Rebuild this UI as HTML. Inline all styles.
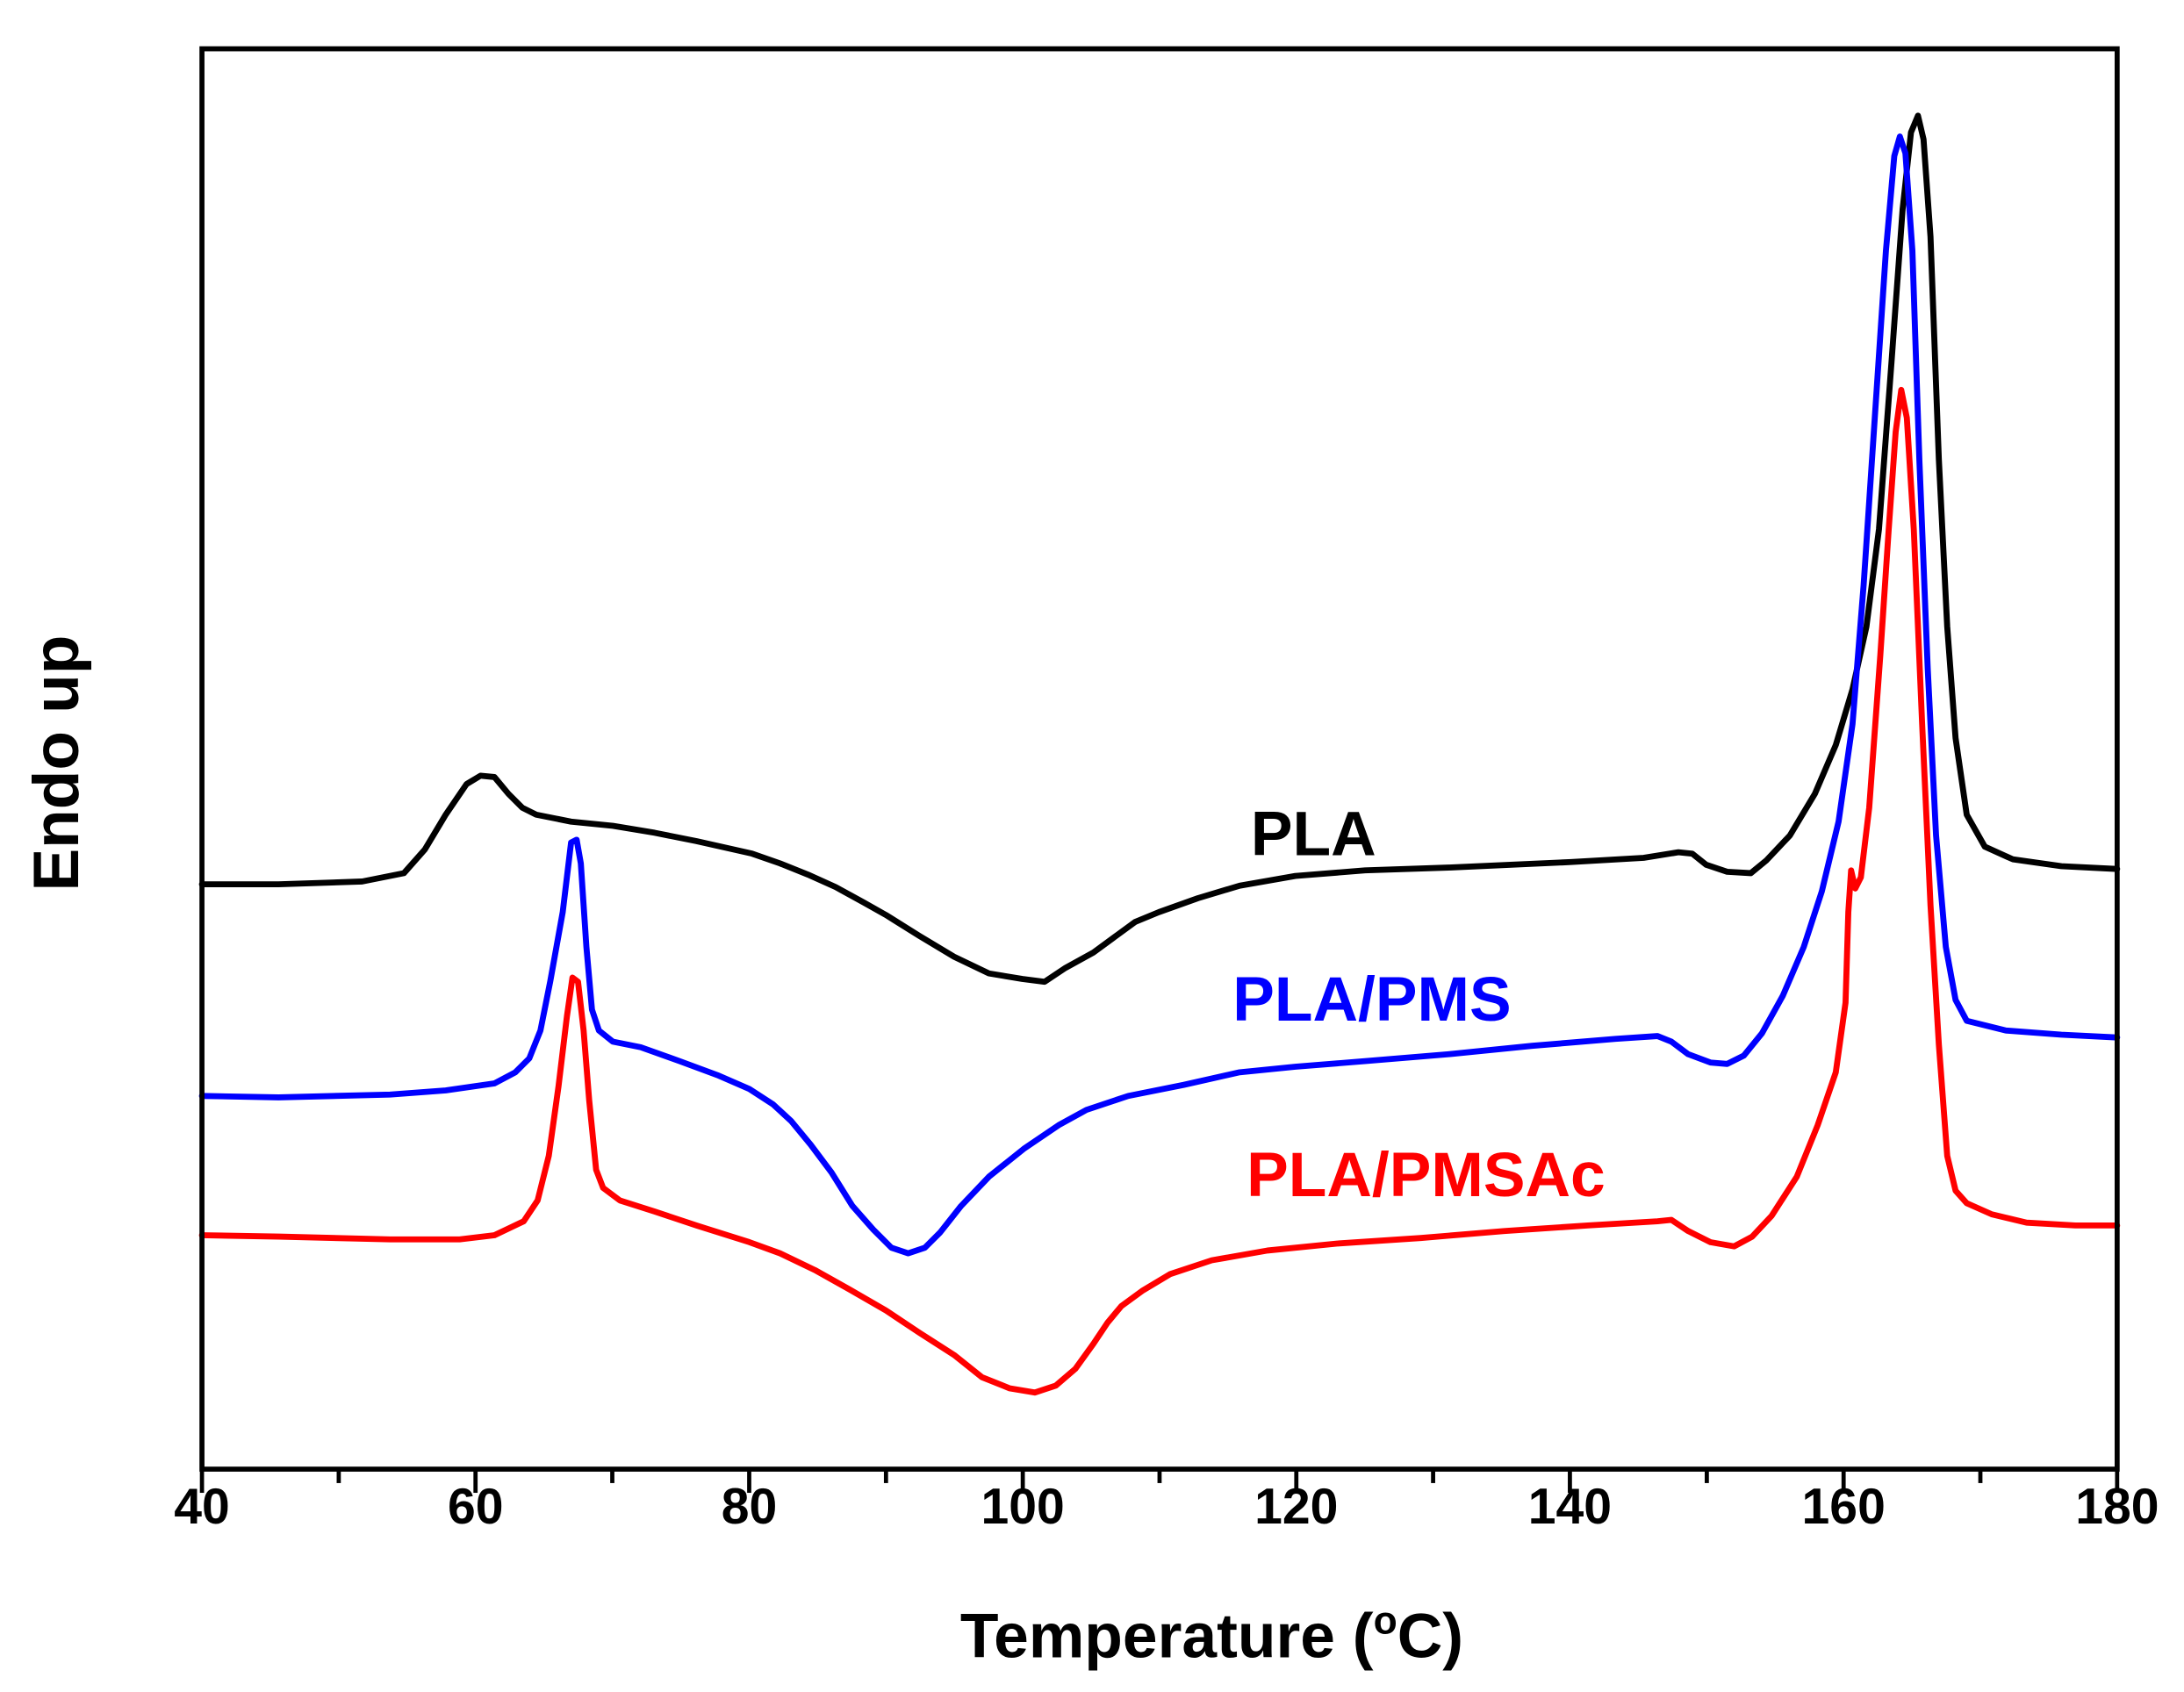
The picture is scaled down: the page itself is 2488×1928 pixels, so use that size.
<!DOCTYPE html>
<html><head><meta charset="utf-8"><style>html,body{margin:0;padding:0;background:#fff}svg{display:block}</style></head>
<body>
<svg xmlns="http://www.w3.org/2000/svg" width="2488" height="1928" viewBox="0 0 1568 1215">
<rect width="1568" height="1215" fill="#fff"/>
<g fill="none" stroke-linejoin="round" stroke-linecap="round" stroke-width="4.3">
<polyline stroke="#000" points="145,635 200,635 260,633 290,627 305,610 320,585 335,563 345,557 355,558 365,570 375,580 385,585 410,590 440,593 470,598 500,604 540,613 560,620 580,628 600,637 620,648 636,657 660,672 685,687 710,699 734,703 750,705 765,695 785,684 800,673 815,662 832,655 860,645 890,636 930,629 980,625 1040,623 1128,619 1180,616 1205,612 1215,613 1225,621 1240,626 1257,627 1268,618 1285,600 1303,570 1318,535 1330,495 1340,450 1349,380 1358,260 1366,150 1372,95 1377,83 1381,100 1386,170 1392,330 1398,450 1404,530 1412,585 1425,608 1445,617 1480,622 1520,624"/>
<polyline stroke="#0000ff" points="145,787 200,788 280,786 320,783 355,778 370,770 380,760 388,740 395,705 404,655 410,605 414,603 417,620 421,680 425,725 430,740 440,748 460,752 488,762 515,772 538,782 555,793 568,805 582,822 597,842 612,866 627,883 640,896 652,900 664,896 675,885 690,866 710,845 735,825 760,808 780,797 810,787 850,779 890,770 930,766 980,762 1040,757 1100,751 1160,746 1190,744 1200,748 1212,757 1228,763 1240,764 1252,758 1265,742 1280,715 1295,680 1308,640 1320,590 1330,520 1338,420 1346,300 1354,180 1360,112 1364,98 1368,110 1373,180 1378,330 1384,480 1390,600 1397,680 1404,718 1412,733 1440,740 1480,743 1520,745"/>
<polyline stroke="#ff0000" points="145,887 200,888 280,890 330,890 355,887 376,877 386,862 394,830 401,780 407,730 411,702 415,705 419,740 423,790 428,840 433,853 445,862 470,870 500,880 538,892 560,900 585,912 610,926 636,941 660,957 685,973 705,989 725,997 743,1000 758,995 772,983 785,965 795,950 805,938 820,927 840,915 870,905 910,898 960,893 1020,889 1080,884 1140,880 1190,877 1200,876 1212,884 1228,892 1245,895 1258,888 1272,873 1290,845 1305,808 1318,770 1325,720 1327,655 1329,625 1332,638 1336,630 1342,580 1350,470 1356,380 1361,310 1365,280 1369,300 1374,380 1380,520 1386,650 1392,750 1398,830 1404,855 1412,864 1430,872 1455,878 1490,880 1520,880"/>
</g>
<g stroke="#000" stroke-width="3.6" fill="none">
<rect x="145" y="35" width="1375" height="1020"/>
</g>
<g stroke="#000" stroke-width="3">
<line x1="145" y1="1055" x2="145" y2="1072"/><line x1="243.2" y1="1055" x2="243.2" y2="1065"/>
<line x1="341.4" y1="1055" x2="341.4" y2="1072"/><line x1="439.6" y1="1055" x2="439.6" y2="1065"/>
<line x1="537.9" y1="1055" x2="537.9" y2="1072"/><line x1="636.1" y1="1055" x2="636.1" y2="1065"/>
<line x1="734.3" y1="1055" x2="734.3" y2="1072"/><line x1="832.5" y1="1055" x2="832.5" y2="1065"/>
<line x1="930.7" y1="1055" x2="930.7" y2="1072"/><line x1="1028.9" y1="1055" x2="1028.9" y2="1065"/>
<line x1="1127.1" y1="1055" x2="1127.1" y2="1072"/><line x1="1225.4" y1="1055" x2="1225.4" y2="1065"/>
<line x1="1323.6" y1="1055" x2="1323.6" y2="1072"/><line x1="1421.8" y1="1055" x2="1421.8" y2="1065"/>
<line x1="1520" y1="1055" x2="1520" y2="1072"/>
</g>
<g font-family="Liberation Sans, Arial, sans-serif" font-weight="bold" fill="#000" font-size="36" text-anchor="middle">
<text x="145" y="1094">40</text><text x="341.4" y="1094">60</text><text x="537.9" y="1094">80</text>
<text x="734.3" y="1094">100</text><text x="930.7" y="1094">120</text><text x="1127.1" y="1094">140</text>
<text x="1323.6" y="1094">160</text><text x="1520" y="1094">180</text>
</g>
<g font-family="Liberation Sans, Arial, sans-serif" font-weight="bold">
<text x="870" y="1190" font-size="45" text-anchor="middle">Temperature (<tspan font-size="28" dy="-17">o</tspan><tspan dy="17">C)</tspan></text>
<text transform="translate(56,548) rotate(-90)" font-size="46" text-anchor="middle">Endo up</text>
<text x="898" y="614" font-size="45" fill="#000">PLA</text>
<text x="885" y="733" font-size="45" fill="#0000ff">PLA/PMS</text>
<text x="895" y="859" font-size="45" fill="#ff0000">PLA/PMSAc</text>
</g>
</svg>
</body></html>
